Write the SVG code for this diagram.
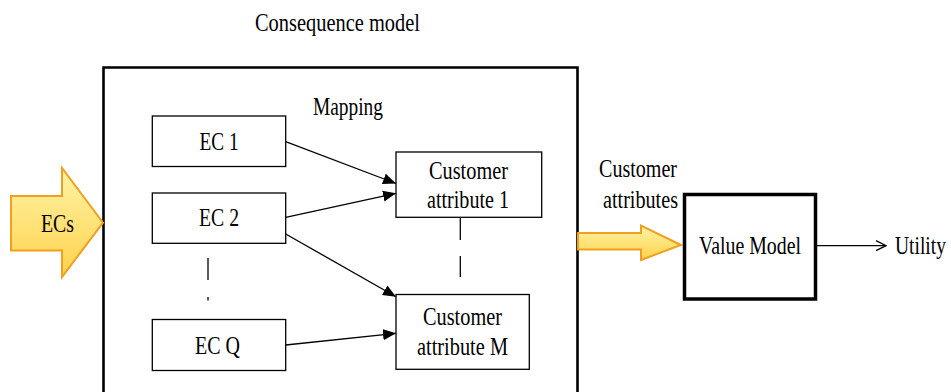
<svg xmlns="http://www.w3.org/2000/svg" width="951" height="392" viewBox="0 0 951 392">
<defs>
<style>
.t{font-family:"Liberation Serif","Times New Roman",serif;font-size:26px;fill:#000;}
.box{fill:#fff;stroke:#000;stroke-width:1.3;}
.ln{stroke:#000;stroke-width:1.3;fill:none;}
.big{fill:url(#yg);stroke:#F0A020;stroke-width:2;stroke-linejoin:miter;}
</style>
<linearGradient id="yg" x1="0" y1="0" x2="0" y2="1">
<stop offset="0" stop-color="#FFF3A6"/>
<stop offset="1" stop-color="#FFD24C"/>
</linearGradient>
<marker id="ah" markerUnits="userSpaceOnUse" markerWidth="14" markerHeight="12" refX="13" refY="5.5" orient="auto" viewBox="0 0 14 11">
<path d="M0,0 L13,5.5 L0,11 Z" fill="#000"/>
</marker>
<marker id="oh" markerUnits="userSpaceOnUse" markerWidth="14" markerHeight="14" refX="11" refY="6" orient="auto" viewBox="0 0 14 12">
<path d="M1,1 L11,6 L1,11" fill="none" stroke="#000" stroke-width="1.3"/>
</marker>
</defs>
<rect width="951" height="392" fill="#fff"/>

<g id="consequence-model">
<path d="M103.5,392 V67.5 H577.5 V392" fill="none" stroke="#000" stroke-width="2.6"/>
<text class="t" x="255" y="31" textLength="165" lengthAdjust="spacingAndGlyphs">Consequence model</text>
<text class="t" x="313" y="115" textLength="70" lengthAdjust="spacingAndGlyphs">Mapping</text>
</g>

<g id="ecs-arrow">
<polygon class="big" points="11,196 62,196 62,168 103,222.7 62,277 62,250.5 11,250.5"/>
<text class="t" x="41" y="232" textLength="33" lengthAdjust="spacingAndGlyphs">ECs</text>
</g>

<g id="ec1">
<rect class="box" x="152.3" y="116" width="133.4" height="50.5"/>
<text class="t" x="199.5" y="150" textLength="39" lengthAdjust="spacingAndGlyphs">EC 1</text>
</g>
<g id="ec2">
<rect class="box" x="152.3" y="193" width="133.4" height="50.3"/>
<text class="t" x="199" y="226" textLength="40" lengthAdjust="spacingAndGlyphs">EC 2</text>
</g>
<g id="ecq">
<rect class="box" x="152.3" y="319.5" width="133.4" height="51"/>
<text class="t" x="195" y="354" textLength="45" lengthAdjust="spacingAndGlyphs">EC Q</text>
</g>

<g id="ca1">
<rect class="box" x="396" y="152" width="145.7" height="65.3"/>
<text class="t" x="429" y="178.5" textLength="79" lengthAdjust="spacingAndGlyphs">Customer</text>
<text class="t" x="427" y="208" textLength="82" lengthAdjust="spacingAndGlyphs">attribute 1</text>
</g>
<g id="cam">
<rect class="box" x="396" y="294.5" width="133.3" height="74.8"/>
<text class="t" x="423" y="325" textLength="79" lengthAdjust="spacingAndGlyphs">Customer</text>
<text class="t" x="417" y="355" textLength="91" lengthAdjust="spacingAndGlyphs">attribute M</text>
</g>

<g id="attributes-arrow">
<polygon class="big" points="578,233 641,233 641,225.5 681,245 641,260 641,249.5 578,249.5"/>
<text class="t" x="599" y="177" textLength="78" lengthAdjust="spacingAndGlyphs">Customer</text>
<text class="t" x="603" y="208" textLength="75" lengthAdjust="spacingAndGlyphs">attributes</text>
</g>

<g id="value-model">
<rect x="684.5" y="194.5" width="131" height="104.5" fill="#fff" stroke="#000" stroke-width="3.5"/>
<text class="t" x="699" y="254" textLength="102" lengthAdjust="spacingAndGlyphs">Value Model</text>
</g>

<g id="utility">
<text class="t" transform="translate(895,254) scale(1,1.32)" x="0" y="0" style="font-size:19.5px">Utility</text>
</g>

<g id="connectors">
<line class="ln" x1="285.7" y1="141.7" x2="396" y2="183.5" marker-end="url(#ah)"/>
<line class="ln" x1="285.7" y1="217.3" x2="396" y2="193.3" marker-end="url(#ah)"/>
<line class="ln" x1="285.7" y1="234" x2="396" y2="296.7" marker-end="url(#ah)"/>
<line class="ln" x1="285.7" y1="345" x2="396" y2="333.3" marker-end="url(#ah)"/>
<line class="ln" x1="817" y1="245.7" x2="886" y2="245.7" marker-end="url(#oh)"/>
<line class="ln" x1="208" y1="258" x2="208" y2="280"/>
<line class="ln" x1="208" y1="297" x2="208" y2="300.5"/>
<line class="ln" x1="460.3" y1="218" x2="460.3" y2="240"/>
<line class="ln" x1="460.3" y1="256" x2="460.3" y2="277"/>
</g>
</svg>
